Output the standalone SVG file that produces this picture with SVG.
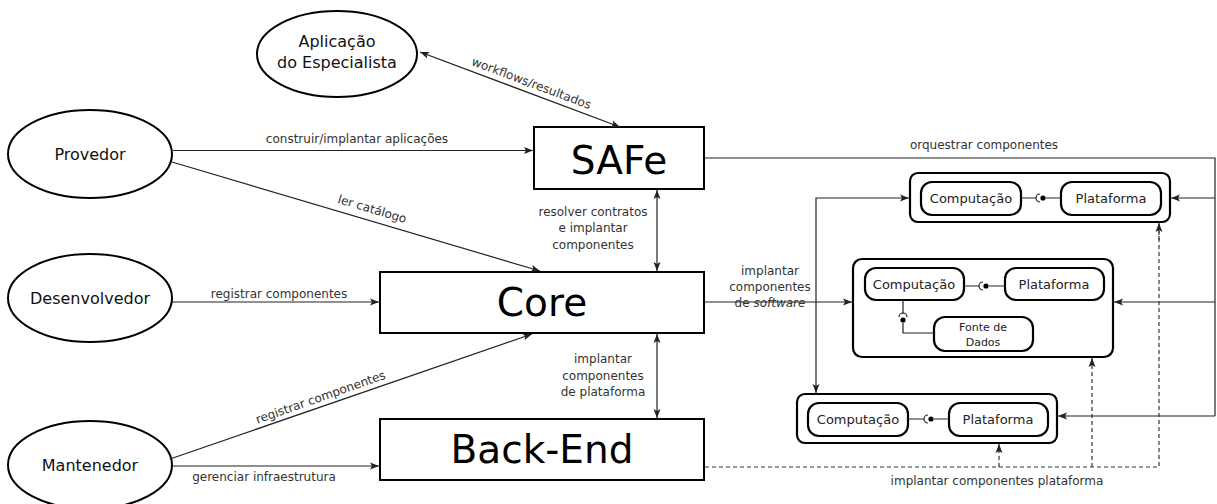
<svg xmlns="http://www.w3.org/2000/svg" width="1217" height="504" viewBox="0 0 1217 504">
  <style>
    .actor { fill: #fff; stroke: #000; stroke-width: 2; }
    .box { fill: #fff; stroke: #000; stroke-width: 2; }
    .cont { fill: #fff; stroke: #000; stroke-width: 2.2; }
    .part { fill: #fff; stroke: #000; stroke-width: 2.2; }
    .edge { fill: none; stroke: #222; stroke-width: 1.2; }
    .dash { fill: none; stroke: #333; stroke-width: 1.2; stroke-dasharray: 4 3; }
    .wire { fill: none; stroke: #222; stroke-width: 1.2; }
    text { font-family: "DejaVu Sans", Verdana, sans-serif; fill: #111; }
    .actor-t { font-size: 16px; text-anchor: middle; }
    .big { font-size: 39px; text-anchor: middle; fill: #000; }
    .lbl { font-size: 12px; text-anchor: middle; fill: #333; }
    .part-t { font-size: 13px; text-anchor: middle; fill: #222; }
    .small-t { font-size: 11px; text-anchor: middle; fill: #222; }
  </style>
  <defs>
    <marker id="arr" viewBox="-10 -5 10 10" refX="0" refY="0" markerWidth="10" markerHeight="10" markerUnits="userSpaceOnUse" orient="auto-start-reverse">
      <path d="M0,0 L-9,-3.5 L-7,0 L-9,3.5 Z" fill="#222"/>
    </marker>
  </defs>

  <!-- actors -->
  <g id="aplicacao">
    <ellipse class="actor" cx="337" cy="54" rx="80" ry="43"/>
    <text class="actor-t" x="337" y="47">Aplicação</text>
    <text class="actor-t" x="337" y="68">do Especialista</text>
  </g>
  <g id="provedor">
    <ellipse class="actor" cx="90" cy="154" rx="82" ry="44"/>
    <text class="actor-t" x="90" y="160">Provedor</text>
  </g>
  <g id="desenvolvedor">
    <ellipse class="actor" cx="90" cy="298" rx="82" ry="44"/>
    <text class="actor-t" x="90" y="304">Desenvolvedor</text>
  </g>
  <g id="mantenedor">
    <ellipse class="actor" cx="90" cy="465" rx="82" ry="44"/>
    <text class="actor-t" x="90" y="471">Mantenedor</text>
  </g>

  <!-- platform layers -->
  <g id="safe">
    <rect class="box" x="534" y="127" width="170" height="62"/>
    <text class="big" x="619" y="174">SAFe</text>
  </g>
  <g id="core">
    <rect class="box" x="380" y="272" width="324" height="61"/>
    <text class="big" x="542" y="316">Core</text>
  </g>
  <g id="backend">
    <rect class="box" x="380" y="419" width="324" height="61"/>
    <text class="big" x="542" y="463">Back-End</text>
  </g>

  <!-- deployed component groups -->
  <g id="grupo1">
    <rect class="cont" x="910" y="173" width="260" height="49" rx="8"/>
    <rect class="part" x="921" y="182" width="100" height="33" rx="11"/>
    <text class="part-t" x="971" y="203">Computação</text>
    <rect class="part" x="1061" y="182" width="100" height="33" rx="11"/>
    <text class="part-t" x="1111" y="203">Plataforma</text>
    <path class="wire" d="M1021,198 H1036 M1046,198 H1061"/>
    <path class="wire" d="M1040,194 A4,4 0 0 0 1040,202"/>
    <circle cx="1043" cy="198" r="2.6" fill="#000"/>
  </g>
  <g id="grupo2">
    <rect class="cont" x="853" y="259" width="260" height="98" rx="9"/>
    <rect class="part" x="865" y="268" width="99" height="32" rx="11"/>
    <text class="part-t" x="914" y="289">Computação</text>
    <rect class="part" x="1005" y="268" width="99" height="32" rx="11"/>
    <text class="part-t" x="1054" y="289">Plataforma</text>
    <path class="wire" d="M964,286 H979 M989,286 H1005"/>
    <path class="wire" d="M983,282 A4,4 0 0 0 983,290"/>
    <circle cx="986" cy="286" r="2.6" fill="#000"/>
    <rect class="part" x="934" y="317" width="99" height="34" rx="11"/>
    <text class="small-t" x="983" y="331">Fonte de</text>
    <text class="small-t" x="983" y="346">Dados</text>
    <path class="wire" d="M903,300 V314 M903,323 V333 H934"/>
    <path class="wire" d="M899,317 A4,4 0 0 1 907,317"/>
    <circle cx="903" cy="320" r="2.6" fill="#000"/>
  </g>
  <g id="grupo3">
    <rect class="cont" x="797" y="394" width="260" height="49" rx="8"/>
    <rect class="part" x="808" y="403" width="100" height="33" rx="11"/>
    <text class="part-t" x="858" y="424">Computação</text>
    <rect class="part" x="949" y="403" width="99" height="33" rx="11"/>
    <text class="part-t" x="998" y="424">Plataforma</text>
    <path class="wire" d="M908,419 H924 M934,419 H949"/>
    <path class="wire" d="M928,415 A4,4 0 0 0 928,423"/>
    <circle cx="931" cy="419" r="2.6" fill="#000"/>
  </g>

  <!-- connectors -->
  <g id="conectores">
    <line class="edge" x1="420" y1="52" x2="620" y2="127" marker-start="url(#arr)" marker-end="url(#arr)"/>
    <line class="edge" x1="173" y1="150.5" x2="533" y2="150.5" marker-end="url(#arr)"/>
    <line class="edge" x1="172" y1="162" x2="540" y2="271" marker-end="url(#arr)"/>
    <line class="edge" x1="172" y1="302" x2="379" y2="302" marker-end="url(#arr)"/>
    <line class="edge" x1="170" y1="459" x2="532" y2="334" marker-end="url(#arr)"/>
    <line class="edge" x1="172" y1="466" x2="379" y2="466" marker-end="url(#arr)"/>
    <line class="edge" x1="657" y1="190" x2="657" y2="271" marker-start="url(#arr)" marker-end="url(#arr)"/>
    <line class="edge" x1="657" y1="334" x2="657" y2="418" marker-start="url(#arr)" marker-end="url(#arr)"/>
    <!-- software deployment from Core -->
    <line class="edge" x1="705" y1="302" x2="852" y2="302" marker-end="url(#arr)"/>
    <path class="edge" d="M909,198 H816 V393" marker-start="url(#arr)" marker-end="url(#arr)"/>
    <!-- orchestration from SAFe -->
    <path class="edge" d="M705,158 H1215 V416"/>
    <line class="edge" x1="1215" y1="198" x2="1171" y2="198" marker-end="url(#arr)"/>
    <line class="edge" x1="1215" y1="302" x2="1114" y2="302" marker-end="url(#arr)"/>
    <line class="edge" x1="1215" y1="416" x2="1058" y2="416" marker-end="url(#arr)"/>
    <!-- platform deployment from Back-End -->
    <path class="dash" d="M705,467 H1159 V224"/>
    <line class="dash" x1="1159" y1="240" x2="1159" y2="223" marker-end="url(#arr)"/>
    <line class="dash" x1="1092" y1="467" x2="1092" y2="358" marker-end="url(#arr)"/>
    <line class="dash" x1="999" y1="467" x2="999" y2="444" marker-end="url(#arr)"/>
  </g>

  <!-- connector labels -->
  <g id="rotulos">
    <text class="lbl" x="530" y="87" transform="rotate(20.6 530 87)">workflows/resultados</text>
    <text class="lbl" x="357" y="143">construir/implantar aplicações</text>
    <text class="lbl" x="371" y="213" transform="rotate(16.7 371 213)">ler catálogo</text>
    <text class="lbl" x="279" y="298">registrar componentes</text>
    <text class="lbl" x="322" y="401" transform="rotate(-19.4 322 401)">registrar componentes</text>
    <text class="lbl" x="264" y="481">gerenciar infraestrutura</text>
    <text class="lbl" x="593" y="216">resolver contratos</text>
    <text class="lbl" x="593" y="232">e implantar</text>
    <text class="lbl" x="593" y="249">componentes</text>
    <text class="lbl" x="603" y="363">implantar</text>
    <text class="lbl" x="603" y="380">componentes</text>
    <text class="lbl" x="603" y="396">de plataforma</text>
    <text class="lbl" x="770" y="275">implantar</text>
    <text class="lbl" x="770" y="291">componentes</text>
    <text class="lbl" x="770" y="307">de <tspan font-style="italic">software</tspan></text>
    <text class="lbl" x="984" y="149">orquestrar componentes</text>
    <text class="lbl" x="997" y="485">implantar componentes plataforma</text>
  </g>
</svg>
